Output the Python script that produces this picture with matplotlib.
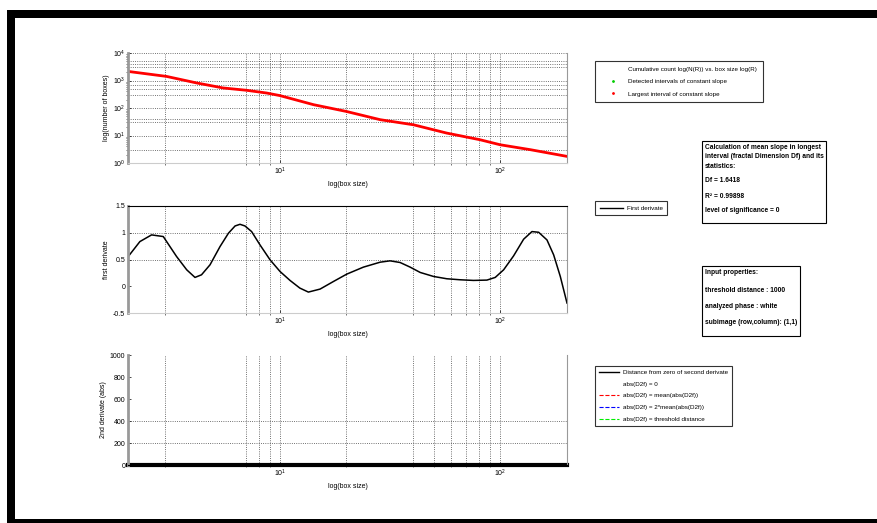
import matplotlib
matplotlib.use("Agg")
import matplotlib.pyplot as plt
from matplotlib.lines import Line2D
from matplotlib.patches import Rectangle
from matplotlib.ticker import FixedLocator, NullFormatter, LogFormatterMathtext

plt.rcParams["font.family"] = ["Liberation Sans", "DejaVu Sans"]
plt.rcParams["mathtext.fontset"] = "custom"
plt.rcParams["mathtext.rm"] = "Liberation Sans"

# cumulative box count
box_size = [2.04, 3.05, 4.18, 5.52, 7.06, 8.7, 10, 14.2, 20, 28.5, 40.4, 57, 81, 100, 137, 201]
n_boxes = [2140, 1410, 815, 535, 440, 350, 282, 132, 75, 37.6, 24.5, 12.3, 7.0, 4.6, 3.05, 1.74]

# first derivative
deriv_x = [2.045, 2.31, 2.61, 2.95, 3.39, 3.77, 4.11, 4.40, 4.81, 5.34, 5.83, 6.25, 6.58, 6.93,
           7.43, 8.11, 9.01, 10, 11.1, 12.3, 13.45, 15.2, 17.5, 20.1, 23.9, 28.5, 31.6, 35.1,
           39.0, 43.3, 49.8, 57.2, 65.8, 75.6, 87.0, 94.9, 103.6, 115, 127.7, 139.3, 149.4,
           163, 174.8, 187.4, 201]
deriv_y = [0.556, 0.835, 0.960, 0.929, 0.556, 0.307, 0.165, 0.214, 0.401, 0.742, 0.991, 1.127,
           1.158, 1.127, 1.022, 0.773, 0.494, 0.276, 0.109, -0.034, -0.109, -0.053, 0.090,
           0.227, 0.357, 0.450, 0.475, 0.444, 0.357, 0.258, 0.183, 0.140, 0.121, 0.109, 0.115,
           0.165, 0.307, 0.568, 0.879, 1.022, 1.009, 0.866, 0.587, 0.183, -0.314]

# second derivative distance (all zero)
dist_y = [0] * len(box_size)

x_grid = [3, 7, 8, 9, 10, 20, 40, 50, 60, 70, 80, 90, 100]
top_ygrid = [3, 10, 30, 40, 100, 300, 500, 700, 1000, 3000, 4000, 5000, 10000]

W, H = 877, 523
fig = plt.figure(figsize=(W / 100, H / 100), dpi=100)
fig.patch.set_facecolor("white")


def rect(x0, y0, x1, y1):
    # pixel box -> figure fraction [left, bottom, width, height]
    return [x0 / W, 1 - y1 / H, (x1 - x0) / W, (y1 - y0) / H]


fs = 5
grid_kw = dict(color="#444444", linestyle=":", linewidth=0.6)


def style(ax):
    ax.set_xscale("log")
    ax.set_xlim(2.04, 201)
    ax.xaxis.set_major_locator(FixedLocator([10, 100]))
    ax.xaxis.set_major_formatter(LogFormatterMathtext())
    ax.xaxis.set_minor_locator(FixedLocator(x_grid))
    ax.xaxis.set_minor_formatter(NullFormatter())
    for x in x_grid:
        ax.axvline(x, zorder=0, **grid_kw)
    ax.tick_params(labelsize=fs, direction="in", length=2, width=0.5, pad=2)
    ax.tick_params(which="minor", length=1.5, width=0.4)
    ax.spines["left"].set_color("#999999")
    ax.spines["left"].set_linewidth(2)
    ax.spines["right"].set_color("#999999")
    ax.spines["right"].set_linewidth(0.8)
    ax.set_xlabel("log(box size)", fontsize=fs, labelpad=3)


# top panel
ax1 = fig.add_axes(rect(128, 53, 567, 163))
style(ax1)
ax1.set_yscale("log")
ax1.set_ylim(1, 10000)
ax1.yaxis.set_major_locator(FixedLocator([1, 10, 100, 1000, 10000]))
ax1.yaxis.set_major_formatter(LogFormatterMathtext())
ax1.yaxis.set_minor_formatter(NullFormatter())
for y in top_ygrid:
    ax1.axhline(y, zorder=0, **grid_kw)
ax1.spines["top"].set_visible(False)
ax1.spines["bottom"].set_color("#cccccc")
ax1.plot(box_size, n_boxes, color="red", linewidth=2.0)
ax1.set_ylabel("log(number of boxes)", fontsize=fs, labelpad=2)

# middle panel
ax2 = fig.add_axes(rect(128, 206, 567, 313))
style(ax2)
ax2.set_ylim(-0.5, 1.5)
ax2.set_yticks([-0.5, 0, 0.5, 1, 1.5])
ax2.set_yticklabels(["-0.5", "0", "0.5", "1", "1.5"])
for y in [0.5, 1]:
    ax2.axhline(y, zorder=0, **grid_kw)
ax2.spines["bottom"].set_color("#cccccc")
ax2.plot(deriv_x, deriv_y, color="black", linewidth=1.1)
ax2.set_ylabel("first derivate", fontsize=fs, labelpad=2)

# bottom panel
ax3 = fig.add_axes(rect(128, 355, 567, 465))
style(ax3)
ax3.set_ylim(0, 1000)
ax3.set_yticks([0, 200, 400, 600, 800, 1000])
for y in [200, 400]:
    ax3.axhline(y, zorder=0, **grid_kw)
ax3.spines["top"].set_visible(False)
ax3.plot(box_size, dist_y, color="black", linewidth=3, clip_on=False)
ax3.set_ylabel("2nd derivate (abs)", fontsize=fs, labelpad=2)

# legends
lfs = 4.5
leg_kw = dict(loc="upper left", fontsize=lfs, frameon=True, fancybox=False,
              edgecolor="black", borderpad=0.7, labelspacing=1.1, handlelength=3.8,
              handletextpad=0.6)
h_top = [Line2D([], [], color="none"),
         Line2D([], [], color="#00cc00", marker=".", markersize=2, linestyle="none"),
         Line2D([], [], color="red", marker=".", markersize=2, linestyle="none")]
l_top = ["Cumulative count log(N(R)) vs. box size log(R)",
         "Detected intervals of constant slope",
         "Largest interval of constant slope"]
lg = fig.legend(h_top, l_top, bbox_to_anchor=(592 / W, 1 - 58 / H),
                **{**leg_kw, "borderpad": 0.9})
lg.get_frame().set_linewidth(0.8)

h_mid = [Line2D([], [], color="black", linewidth=1)]
lg = fig.legend(h_mid, ["First derivate"], bbox_to_anchor=(592 / W, 1 - 198 / H), **leg_kw)
lg.get_frame().set_linewidth(0.8)

h_bot = [Line2D([], [], color="black", linewidth=1),
         Line2D([], [], color="none"),
         Line2D([], [], color="red", linestyle="--", linewidth=0.8),
         Line2D([], [], color="blue", linestyle="--", linewidth=0.8),
         Line2D([], [], color="#00ee00", linestyle="--", linewidth=0.8)]
l_bot = ["Distance from zero of second derivate",
         "abs(D2f) = 0",
         "abs(D2f) = mean(abs(D2f))",
         "abs(D2f) = 2*mean(abs(D2f))",
         "abs(D2f) = threshold distance"]
lg = fig.legend(h_bot, l_bot, bbox_to_anchor=(592 / W, 1 - 363 / H),
                **{**leg_kw, "labelspacing": 1.0, "borderpad": 0.6, "handlelength": 3.2})
lg.get_frame().set_linewidth(0.8)

# text boxes
fig.add_artist(Rectangle((702 / W, 1 - 223 / H), 124 / W, 82 / H, transform=fig.transFigure,
                         fill=False, edgecolor="black", linewidth=0.8))
stats = [("Calculation of mean slope in longest", 148),
         ("interval (fractal Dimension Df) and its", 157),
         ("statistics:", 166),
         ("Df = 1.6418", 181),
         ("R\u00b2 = 0.99898", 196),
         ("level of significance = 0", 211)]
for s, y in stats:
    fig.text(705 / W, 1 - y / H, s, fontsize=4.8, fontweight="bold", va="center", ha="left")

fig.add_artist(Rectangle((702 / W, 1 - 336 / H), 98 / W, 70 / H, transform=fig.transFigure,
                         fill=False, edgecolor="black", linewidth=0.8))
props = [("Input properties:", 273),
         ("threshold distance : 1000", 290),
         ("analyzed phase : white", 307),
         ("subimage (row,column): (1,1)", 323)]
for s, y in props:
    fig.text(705 / W, 1 - y / H, s, fontsize=4.8, fontweight="bold", va="center", ha="left")

# outer black frame
for x0, y0, x1, y1 in [(7, 10, 877, 18), (7, 10, 15, 523), (7, 519, 877, 523)]:
    fig.add_artist(Rectangle((x0 / W, 1 - y1 / H), (x1 - x0) / W, (y1 - y0) / H,
                             transform=fig.transFigure, color="black", linewidth=0))

fig.savefig("out.png", dpi=100)
